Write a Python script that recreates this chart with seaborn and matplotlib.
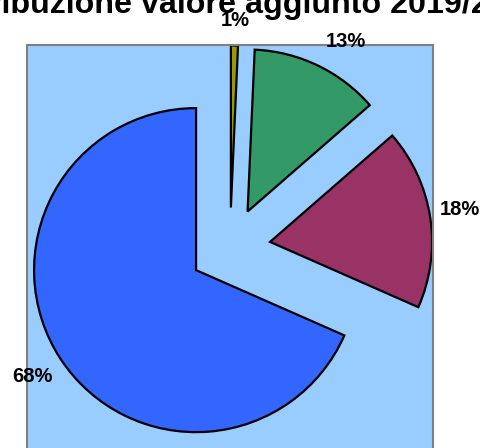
import numpy as np
import matplotlib
matplotlib.use("Agg")
import matplotlib.pyplot as plt
import seaborn as sns

# dati (quote % del valore aggiunto)
quote = [68.4, 18.0, 12.9, 0.7]
colori = ["#3366FF", "#993366", "#339966", "#999900"]
dist_etichette = [1.206, 1.19, 1.21, 1.157]
spost_ang = [0, 1.0, -4.3, 0]
titolo = "Distribuzione valore aggiunto 2019/2020"

sns.set_theme(style="white")
plt.rcParams["font.family"] = ["Liberation Sans", "DejaVu Sans"]

W, H = 481, 448
fig = plt.figure(figsize=(W / 100, H / 100), dpi=100)
fig.patch.set_facecolor("white")

# area del grafico (riquadro azzurro)
ax = fig.add_axes([27 / W, 1 - 451 / H, 406 / W, 406 / H])
ax.set_facecolor("#99CCFF")

wedges, labels, pcts = ax.pie(
    quote,
    colors=colori,
    startangle=90,
    counterclock=True,
    explode=[0.25] * len(quote),
    radius=1,
    autopct="%.0f%%",
    pctdistance=1.2,
    frame=True,
    wedgeprops=dict(edgecolor="black", linewidth=1.6),
    textprops=dict(fontsize=14.5, fontweight="bold", color="black"),
)

# posizione etichette come in Excel
for w, t, d, da in zip(wedges, pcts, dist_etichette, spost_ang):
    w.set_clip_on(False)
    ang = np.deg2rad((w.theta1 + w.theta2) / 2 + da)
    cx, cy = w.center
    t.set_position((cx + d * w.r * np.cos(ang), cy + d * w.r * np.sin(ang)))
    t.set_va("center")
    t.set_clip_on(False)

ax.set_aspect("auto")
ax.set_xlim(-1.253, 1.253)
ax.set_ylim(-1.253, 1.253)
ax.set_xticks([])
ax.set_yticks([])
for s in ax.spines.values():
    s.set_visible(True)
    s.set_color("#808080")
    s.set_linewidth(1.5)

fig.text(0.49, 1 - 13.5 / H, titolo, ha="center", va="baseline",
         fontsize=23.2, fontweight="bold", color="black")

fig.savefig("out.png", dpi=100)
